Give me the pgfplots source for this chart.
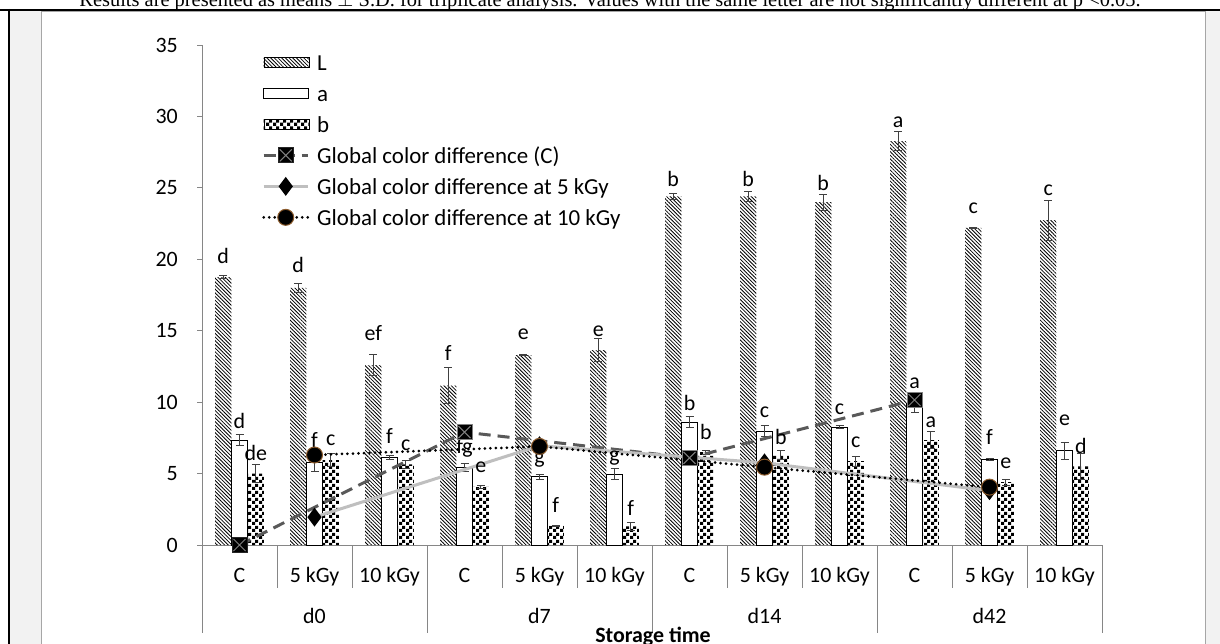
\documentclass[border=0pt]{standalone}
\usepackage{pgfplots}
\pgfplotsset{compat=1.18}
\usepackage{pgfplotstable}
\usepackage{fontspec}
\setmainfont{Carlito}
\newfontfamily\timesfont{Liberation Serif}
\usetikzlibrary{patterns,patterns.meta}
\definecolor{axgray}{HTML}{868686}
\definecolor{errgray}{HTML}{404040}
\definecolor{dashgray}{HTML}{595959}
\definecolor{lightline}{HTML}{BFBFBF}
\definecolor{bgray}{HTML}{F2F2F2}
\definecolor{brownedge}{HTML}{8B5A2B}
\pgfdeclarepatternformonly{checker}{\pgfpointorigin}{\pgfpoint{7bp}{7bp}}{\pgfpoint{7bp}{7bp}}{%
 \pgfpathrectangle{\pgfpointorigin}{\pgfpoint{3.5bp}{3.5bp}}%
 \pgfpathrectangle{\pgfpoint{3.5bp}{3.5bp}}{\pgfpoint{3.5bp}{3.5bp}}%
 \pgfusepath{fill}}
\pgfdeclareplotmark{sqx}{%
 \pgfpathrectangle{\pgfqpoint{-\pgfplotmarksize}{-\pgfplotmarksize}}{\pgfqpoint{2\pgfplotmarksize}{2\pgfplotmarksize}}%
 \pgfusepathqfillstroke
 \pgfsetstrokecolor{gray}%
 \pgfpathmoveto{\pgfqpoint{-0.8\pgfplotmarksize}{-0.8\pgfplotmarksize}}%
 \pgfpathlineto{\pgfqpoint{0.8\pgfplotmarksize}{0.8\pgfplotmarksize}}%
 \pgfpathmoveto{\pgfqpoint{-0.8\pgfplotmarksize}{0.8\pgfplotmarksize}}%
 \pgfpathlineto{\pgfqpoint{0.8\pgfplotmarksize}{-0.8\pgfplotmarksize}}%
 \pgfusepathqstroke}

\newcommand{\txt}{\fontsize{22}{26}\selectfont}
\newcommand{\legtxt}{\fontsize{23}{27}\selectfont}

\pgfplotsset{
 barleg/.style={legend image code/.code={\draw[##1] (0bp,-5bp) rectangle (45bp,5bp);}},
 lineleg/.style={legend image code/.code={\draw[mark repeat=2,mark phase=2,##1] plot coordinates {(0bp,0bp) (22bp,0bp) (44bp,0bp)};}},
 errs/.style={error bars/.cd,y dir=both,y explicit,
  error bar style={line width=1bp,errgray,solid},
  error mark options={rotate=90,mark size=4bp,line width=1bp,errgray}},
 letters/.style={only marks,mark=none,forget plot,nodes near coords,point meta=explicit symbolic,
  every node near coord/.style={anchor=center,inner sep=0pt,font=\txt,black}},
}

\pgfplotstableread{
x v e ly lab
0 18.75 0.12 20.2 d
1 18.0 0.3 19.6 d
2 12.6 0.75 14.84 ef
3 11.15 1.25 13.44 f
4 13.3 0.05 14.77 e
5 13.65 0.8 14.98 e
6 24.4 0.2 25.65 b
7 24.4 0.35 25.6 b
8 24.0 0.55 25.33 b
9 28.27 0.65 29.6 a
10 22.2 0.06 23.58 c
11 22.74 1.4 24.84 c
}\Ltab
\pgfplotstableread{
x v e ly lab
0 7.35 0.4 8.68 d
1 5.8 0.65 7.35 f
2 6.15 0.15 7.63 f
3 5.44 0.3 6.79 fg
4 4.77 0.15 5.95 g
5 4.95 0.38 6.09 g
6 8.6 0.4 9.94 b
7 7.98 0.4 9.31 c
8 8.26 0.1 9.52 c
9 9.9 0.6 11.34 a
10 6.0 0.08 7.56 f
11 6.6 0.6 8.75 e
}\Atab
\pgfplotstableread{
x v e ly lab
0 5.0 0.65 6.44 de
1 5.95 0.45 7.35 c
2 5.65 0.3 7.0 c
3 4.07 0.12 5.46 e
4 1.35 0.05 2.8 f
5 1.3 0.25 2.59 f
6 6.5 0.15 7.91 b
7 6.3 0.3 7.56 b
8 5.88 0.35 7.21 c
9 7.35 0.6 8.61 a
10 4.4 0.2 5.74 e
11 5.5 0.9 6.93 d
}\Btab

\begin{document}
\begin{tikzpicture}
\begin{scope}[x=1bp,y=-1bp]
\useasboundingbox (0,0) rectangle (1220,644);
\fill[bgray] (9,10) rectangle (1220,644);
\fill[white] (41,12) rectangle (1205,644);
\draw[gray!70,line width=1bp] (41,644) -- (41,12) -- (1205,12) -- (1205,644);
\draw[black,line width=2bp] (0,10) -- (1220,10);
\draw[black,line width=2bp] (9,9) -- (9,644);
\node[anchor=base,inner sep=0,font=\timesfont\fontsize{20.5}{24}\selectfont] at (610,6.7)
 {Results are presented as means $\pm$ S.D. for triplicate analysis. Values with the same letter are not significantly different at p <0.05.};
\foreach \i in {0,...,12} {\draw[axgray,line width=1bp] ({202+75*\i},545) -- ({202+75*\i},588);}
\foreach \i in {0,3,6,9,12} {\draw[axgray,line width=1bp] ({202+75*\i},545) -- ({202+75*\i},633);}
\foreach \g [count=\k from 0] in {d0,d7,d14,d42} {\node[font=\txt,text height=15bp,text depth=5bp,inner sep=0] at ({202+75*(3*\k+1.5)},618) {\g};}
\node[font=\txt\bfseries,text height=15bp,text depth=5bp,inner sep=0] at (653,637) {Storage time};
\end{scope}
\begin{axis}[
 at={(202bp,-545bp)}, anchor=south west,
 width=900bp, height=500bp, scale only axis,
 xmin=-0.5, xmax=11.5, ymin=0, ymax=35,
 axis x line*=bottom, axis y line*=left,
 axis line style={axgray,line width=1bp,-},
 ytick={0,5,...,35},
 xtick={0,...,11},
 xticklabels={C,5 kGy,10 kGy,C,5 kGy,10 kGy,C,5 kGy,10 kGy,C,5 kGy,10 kGy},
 tick align=outside, major tick length=5bp,
 major y tick style={axgray,line width=1bp},
 major x tick style={draw=none},
 tick label style={font=\txt},
 /pgf/number format/assume math mode=true,
 yticklabel style={anchor=east,inner sep=0pt,xshift=-19bp},
 xticklabel style={anchor=center,text height=15bp,text depth=5bp,inner sep=0pt,yshift=-27bp},
 clip=false,
 legend style={draw=none,fill=none,at={(axis description cs:0.0667,0.988)},anchor=north west,
   inner sep=0pt,row sep=8.5bp,column sep=6bp,font=\legtxt,
   cells={anchor=west,inner sep=0pt,text height=17bp,text depth=6bp}},
 legend cell align=left,
]
\addplot[ybar,bar width=0.217,bar shift=0,draw=none,
  pattern={Lines[angle=-45,distance=2.6bp,line width=0.8bp]},pattern color=black,
  barleg,errs]
  table[x expr=\thisrow{x}-0.217,y=v,y error=e]{\Ltab};
\addplot[ybar,bar width=0.217,bar shift=0,draw=black,line width=1bp,fill=white,
  barleg,errs]
  table[x=x,y=v,y error=e]{\Atab};
\addplot[ybar,bar width=0.217,bar shift=0,draw=none,
  pattern=checker,pattern color=black,
  barleg,errs]
  table[x expr=\thisrow{x}+0.217,y=v,y error=e]{\Btab};
\addplot[letters] table[x expr=\thisrow{x}-0.217,y=ly,meta=lab]{\Ltab};
\addplot[letters] table[x=x,y=ly,meta=lab]{\Atab};
\addplot[letters] table[x expr=\thisrow{x}+0.217,y=ly,meta=lab]{\Btab};
\addplot[dashgray,line width=3bp,dash pattern=on 12bp off 7bp,
  mark=sqx,mark size=7.5bp,mark options={solid,fill=black,draw=black!85,line width=1bp},
  lineleg]
  coordinates {(0,0) (3,7.9) (6,6.1) (9,10.15)};
\addplot[lightline,line width=3bp,
  mark=diamond*,mark size=7bp,mark options={fill=black,draw=black},
  lineleg]
  coordinates {(1,1.95) (4,6.95) (7,5.75) (10,3.8)};
\addplot[black,line width=3bp,line cap=round,dash pattern=on 0bp off 5.5bp,
  mark=*,mark size=8bp,mark options={solid,fill=black,draw=brownedge,line width=1bp},
  lineleg]
  coordinates {(1,6.3) (4,6.9) (7,5.45) (10,4.05)};
\legend{L,a,b,Global color difference (C),Global color difference at 5 kGy,Global color difference at 10 kGy}
\end{axis}
\end{tikzpicture}
\end{document}
